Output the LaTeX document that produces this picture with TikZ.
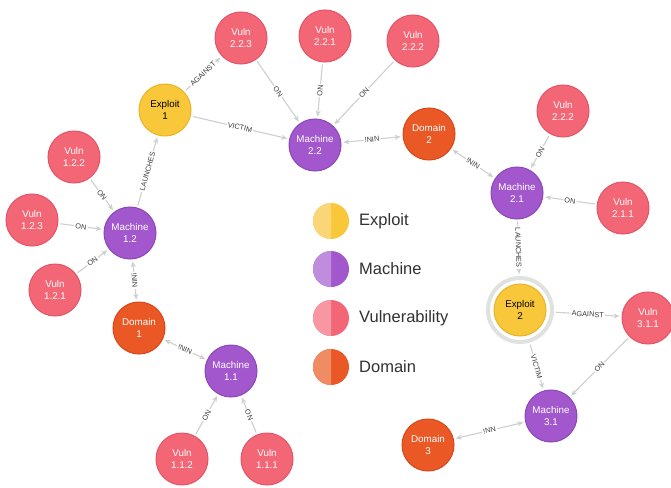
\documentclass[tikz,border=0pt]{standalone}
\usepackage{fontspec}
\setmainfont{Liberation Sans}
\usetikzlibrary{arrows.meta}
\definecolor{vulnc}{RGB}{243,102,118}
\definecolor{vulnd}{RGB}{228,84,102}
\definecolor{vulnl}{RGB}{248,150,162}
\definecolor{machc}{RGB}{162,88,204}
\definecolor{machd}{RGB}{140,70,186}
\definecolor{machl}{RGB}{192,140,222}
\definecolor{explc}{RGB}{248,200,58}
\definecolor{expld}{RGB}{232,180,40}
\definecolor{expll}{RGB}{250,214,120}
\definecolor{domc}{RGB}{234,88,38}
\definecolor{domd}{RGB}{214,72,26}
\definecolor{doml}{RGB}{240,140,100}
\definecolor{edgec}{RGB}{204,208,206}
\definecolor{labc}{RGB}{60,60,60}
\definecolor{haloc}{RGB}{224,226,224}
\definecolor{legtext}{RGB}{50,50,50}
\tikzset{
  gnode/.style={circle, minimum size=52pt, inner sep=0pt, align=center,
    font=\fontsize{9.8}{11.5}\selectfont, line width=1pt},
  vuln/.style={gnode, fill=vulnc, draw=vulnd, text=white},
  mach/.style={gnode, fill=machc, draw=machd, text=white},
  expl/.style={gnode, fill=explc, draw=expld, text=black},
  dom/.style={gnode, fill=domc, draw=domd, text=white},
  rel/.style={draw=edgec, line width=1.1pt, -{Stealth[length=6pt,width=5pt]},
    shorten >=2pt, shorten <=2pt},
  birel/.style={rel, {Stealth[length=6pt,width=5pt]}-{Stealth[length=6pt,width=5pt]}},
  lab/.style={sloped, fill=white, inner sep=1.2pt, text=labc,
    font=\fontsize{7.3}{8}\selectfont},
  legtxt/.style={anchor=west, text=legtext, font=\fontsize{16.5}{18}\selectfont, inner sep=0pt}
}
\begin{document}
\begin{tikzpicture}[x=1pt,y=-1pt]
\useasboundingbox (0,0) rectangle (671,487);
\fill[white] (0,0) rectangle (671,487);

% nodes
\node[vuln] (v223) at (241,38) {Vuln\\2.2.3};
\node[vuln] (v221) at (325,36) {Vuln\\2.2.1};
\node[vuln] (v222a) at (413,41) {Vuln\\2.2.2};
\node[expl] (e1) at (165,110) {Exploit\\1};
\node[mach] (m22) at (315,145) {Machine\\2.2};
\node[dom] (d2) at (429,134) {Domain\\2};
\node[vuln] (v222b) at (563,111) {Vuln\\2.2.2};
\node[mach] (m21) at (517,193) {Machine\\2.1};
\node[vuln] (v211) at (623,208) {Vuln\\2.1.1};
\node[vuln] (v122) at (74,157) {Vuln\\1.2.2};
\node[vuln] (v123) at (32,220) {Vuln\\1.2.3};
\node[mach] (m12) at (130,233) {Machine\\1.2};
\node[vuln] (v121) at (55,290) {Vuln\\1.2.1};
\node[dom] (d1) at (139,328) {Domain\\1};
\node[mach] (m11) at (231,371) {Machine\\1.1};
\node[vuln] (v112) at (182,459) {Vuln\\1.1.2};
\node[vuln] (v111) at (267,459) {Vuln\\1.1.1};
\node[circle, minimum size=64pt, inner sep=0pt, draw=haloc, line width=4pt] (e2h) at (520,310) {};
\node[expl] (e2) at (520,310) {Exploit\\2};
\node[vuln] (v311) at (648,318) {Vuln\\3.1.1};
\node[mach] (m31) at (551,416) {Machine\\3.1};
\node[dom] (d3) at (428,445) {Domain\\3};

% edges
\draw[rel] (e1) -- node[lab]{AGAINST} (v223);
\draw[rel] (v223) -- node[lab]{ON} (m22);
\draw[rel] (v221) -- node[lab]{ON} (m22);
\draw[rel] (v222a) -- node[lab]{ON} (m22);
\draw[rel] (e1) -- node[lab]{VICTIM} (m22);
\draw[birel] (m22) -- node[lab]{!NIN} (d2);
\draw[birel] (d2) -- node[lab]{!NIN} (m21);
\draw[rel] (v222b) -- node[lab]{ON} (m21);
\draw[rel] (v211) -- node[lab]{ON} (m21);
\draw[rel] (m21) -- node[lab]{LAUNCHES} (e2h);
\draw[rel] (e2h) -- node[lab]{AGAINST} (v311);
\draw[rel] (e2h) -- node[lab]{VICTIM} (m31);
\draw[rel] (v311) -- node[lab]{ON} (m31);
\draw[birel] (m31) -- node[lab]{!NN} (d3);
\draw[rel] (v122) -- node[lab]{ON} (m12);
\draw[rel] (v123) -- node[lab]{ON} (m12);
\draw[rel] (v121) -- node[lab]{ON} (m12);
\draw[rel] (m12) -- node[lab]{LAUNCHES} (e1);
\draw[birel] (m12) -- node[lab]{!NIN} (d1);
\draw[birel] (d1) -- node[lab]{!NIN} (m11);
\draw[rel] (v112) -- node[lab]{ON} (m11);
\draw[rel] (v111) -- node[lab]{ON} (m11);

% legend
\foreach \yy/\cl/\cd/\nm in {221/expll/explc/le, 269/machl/machc/lm, 318/vulnl/vulnc/lv, 367/doml/domc/ld}{
  \fill[\cd] (331,\yy) circle (18);
  \begin{scope}
    \clip (310,\yy-20) rectangle (331,\yy+20);
    \fill[\cl] (331,\yy) circle (18);
  \end{scope}
  \coordinate (\nm) at (359,\yy);
}
\node[legtxt] (lte) at (le) {Exploit};
\node[legtxt] (ltm) at (lm) {Machine};
\node[legtxt] (ltv) at (lv) {Vulnerability};
\node[legtxt] (ltd) at (ld) {Domain};
\end{tikzpicture}
\end{document}
